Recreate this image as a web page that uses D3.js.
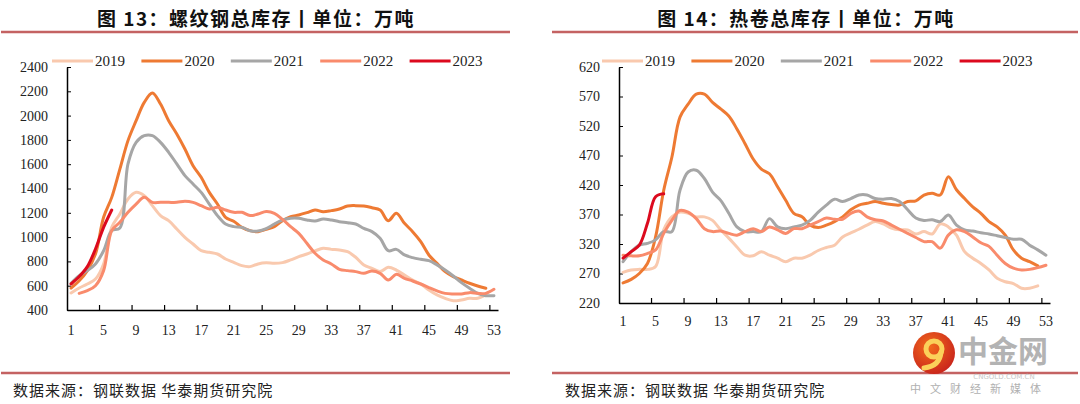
<!DOCTYPE html>
<html>
<head>
<meta charset="utf-8">
<script src="https://cdn.jsdelivr.net/npm/d3@7"></script>
<style>
  body { margin: 0; background: #fff; }
  svg { display: block; }
</style>
</head>
<body>
<div id="chart"></div>
<script>
// Week numbers on the x axis
const weeks = d3.range(1, 54);
const years = ["2019", "2020", "2021", "2022", "2023"];
const colors = ["#f9c9ae", "#ee7a33", "#a6a6a6", "#f98b6c", "#dc0a1e"];

// Rebar total inventory (figure 13)
const rebar2019 = [540, 581, 614, 655, 779, 1080, 1190, 1314, 1369, 1341, 1259, 1177, 1135, 1067, 998, 943, 888, 875, 861, 820, 792, 765, 757, 779, 788,
  784, 790, 812, 839, 861, 886, 908, 899, 894, 880, 834, 771, 743, 716, 751, 729, 688, 647, 614, 565, 524, 496, 477, 483, 496, 496, 524];
const rebar2020 = [580, 640, 724, 860, 1163, 1327, 1560, 1794, 1958, 2109, 2186, 2095, 1958, 1849, 1725, 1588, 1492, 1368, 1272, 1163, 1130, 1080, 1053, 1045, 1065,
  1086, 1135, 1168, 1182, 1201, 1223, 1209, 1218, 1231, 1256, 1259, 1256, 1242, 1223, 1135, 1196, 1113, 1045, 963, 853, 784, 716, 675, 647, 620, 598, 579];
const rebar2021 = [620, 683, 724, 779, 888, 1053, 1075, 1602, 1780, 1835, 1835, 1780, 1698, 1602, 1506, 1437, 1368, 1272, 1177, 1108, 1086, 1080, 1053, 1050, 1070,
  1108, 1141, 1155, 1155, 1141, 1133, 1149, 1141, 1127, 1119, 1108, 1072, 1045, 990, 888, 899, 853, 831, 817, 806, 771, 729, 680, 625, 579, 537, 518, 518];
const rebar2022 = [null, 537, 559, 600, 724, 1053, 1122, 1204, 1272, 1327, 1286, 1286, 1286, 1286, 1295, 1286, 1259, 1231, 1245, 1223, 1204, 1204, 1177, 1190, 1210,
  1196, 1146, 1086, 1031, 949, 867, 812, 779, 735, 724, 716, 702, 721, 702, 647, 694, 661, 639, 614, 584, 557, 537, 532, 532, 543, 537, 537, 570];
const rebar2023 = [614, 675, 757, 902, 1080, 1223];

// Hot-rolled coil total inventory (figure 14)
const hrc2019 = [272, 276, 277, 277, 282, 344, 366, 374, 372, 366, 366, 360, 344, 330, 315, 301, 300, 307, 301, 296, 290, 296, 296, 301, 309,
  314, 318, 332, 339, 345, 352, 358, 354, 347, 344, 344, 337, 341, 337, 354, 349, 335, 307, 296, 287, 276, 262, 256, 253, 245, 245, 249];
const hrc2020 = [254, 260, 270, 287, 332, 411, 467, 535, 557, 574, 574, 560, 549, 537, 515, 490, 464, 447, 439, 417, 394, 372, 366, 352, 348,
  352, 358, 366, 378, 386, 389, 392, 389, 387, 386, 392, 393, 403, 406, 403, 434, 412, 397, 383, 372, 358, 349, 335, 310, 296, 290, 283];
const hrc2021 = [290, 307, 318, 321, 327, 341, 341, 411, 442, 445, 431, 408, 394, 372, 349, 341, 341, 341, 363, 349, 346, 349, 352, 360, 374,
  386, 396, 392, 397, 403, 403, 397, 396, 397, 392, 378, 364, 360, 361, 358, 369, 352, 344, 342, 339, 337, 334, 331, 328, 328, 318, 310, 301];
const hrc2022 = [301, 300, 300, 304, 310, 338, 360, 377, 374, 363, 346, 341, 342, 338, 335, 341, 346, 341, 349, 344, 338, 346, 346, 352, 358,
  364, 362, 362, 372, 376, 366, 361, 359, 352, 345, 338, 331, 324, 324, 313, 335, 344, 341, 332, 322, 316, 301, 287, 279, 276, 277, 280, 284];
const hrc2023 = [296, 307, 318, 355, 400, 405];

// Tick labels
const rebarTicks = [400, 600, 800, 1000, 1200, 1400, 1600, 1800, 2000, 2200, 2400];
const hrcTicks = [220, 270, 320, 370, 420, 470, 520, 570, 620];
const weekLabels = weeks.filter(w => (w - 1) % 4 === 0);

const svg = d3.select("#chart").append("svg")
  .attr("width", 1080)
  .attr("height", 404);

function drawChart(opts) {
  const g = svg.append("g");
  const serif = "'Liberation Serif', 'Times New Roman', serif";

  // Title and rule lines
  g.append("text")
    .attr("x", opts.titleX).attr("y", 26)
    .attr("text-anchor", "middle")
    .style("font-family", "'Noto Sans CJK SC', sans-serif")
    .style("font-weight", "bold")
    .style("font-size", "19px")
    .style("letter-spacing", "1.5px")
    .attr("fill", "#111")
    .text(opts.title);
  g.append("line")
    .attr("x1", opts.ruleX1).attr("x2", opts.ruleX2)
    .attr("y1", 32).attr("y2", 32)
    .attr("stroke", "#c46262").attr("stroke-width", 2.5);
  g.append("line")
    .attr("x1", opts.ruleX1).attr("x2", opts.ruleX2)
    .attr("y1", 373).attr("y2", 373)
    .attr("stroke", "#c46262").attr("stroke-width", 2.5);
  g.append("text")
    .attr("x", opts.sourceX).attr("y", 396)
    .style("font-family", "'Noto Sans CJK SC', sans-serif")
    .style("font-size", "15px")
    .style("letter-spacing", "1px")
    .attr("fill", "#222")
    .text("数据来源：钢联数据 华泰期货研究院");

  // Scales
  const x = d3.scaleBand()
    .domain(weeks)
    .range([opts.left, opts.right])
    .padding(0);
  const y = d3.scaleLinear()
    .domain(opts.domain)
    .range([opts.bottom, opts.top]);

  // Y axis
  const yAxis = g.append("g")
    .attr("transform", "translate(" + opts.left + ",0)")
    .call(d3.axisLeft(y).tickValues(opts.yTicks).tickFormat(d3.format("d"))
      .tickSizeInner(-4).tickSizeOuter(0).tickPadding(19));
  yAxis.select(".domain").attr("stroke", "#000").attr("stroke-width", 1.5);
  yAxis.selectAll(".tick line").attr("stroke", "#000");
  yAxis.selectAll("text")
    .style("font-family", serif)
    .style("font-size", "14px")
    .attr("fill", "#222");

  // X axis: labels every 4th week, tick marks on category borders
  const xAxis = g.append("g")
    .attr("transform", "translate(0," + opts.bottom + ")")
    .call(d3.axisBottom(x).tickValues(weekLabels).tickSize(0).tickPadding(opts.xPad));
  xAxis.select(".domain").attr("stroke", "#000").attr("stroke-width", 1.5);
  xAxis.selectAll("text")
    .style("font-family", serif)
    .style("font-size", "14px")
    .attr("fill", "#222");
  xAxis.selectAll(".border-tick")
    .data(weeks.filter(w => w > 1 && (w - 1) % 4 === 0))
    .enter()
    .append("line")
    .attr("class", "border-tick")
    .attr("x1", d => x(d)).attr("x2", d => x(d))
    .attr("y1", 0).attr("y2", -5)
    .attr("stroke", "#000").attr("stroke-width", 1.2);

  // Lines
  const line = d3.line()
    .defined(d => d.v != null)
    .x(d => x(d.w) + x.bandwidth() / 2)
    .y(d => y(d.v))
    .curve(d3.curveCatmullRom.alpha(0.5));

  opts.series.forEach((vals, i) => {
    const pts = vals.map((v, j) => ({ w: weeks[j], v: v }));
    g.append("path")
      .datum(pts)
      .attr("fill", "none")
      .attr("stroke", colors[i])
      .attr("stroke-width", 3)
      .attr("stroke-linejoin", "round")
      .attr("stroke-linecap", "round")
      .attr("d", line);
  });

  // Legend
  const legend = g.append("g");
  years.forEach((yr, i) => {
    const lx = opts.legendX + i * 89.4;
    legend.append("line")
      .attr("x1", lx).attr("x2", lx + 41)
      .attr("y1", 61).attr("y2", 61)
      .attr("stroke", colors[i]).attr("stroke-width", 3);
    legend.append("text")
      .attr("x", lx + 43).attr("y", 66)
      .style("font-family", serif)
      .style("font-size", "15px")
      .attr("fill", "#222")
      .text(yr);
  });
}

drawChart({
  title: "图 13：螺纹钢总库存丨单位：万吨",
  titleX: 256, ruleX1: 1, ruleX2: 510, sourceX: 13,
  left: 67, right: 498, top: 67, bottom: 310,
  domain: [400, 2400], yTicks: rebarTicks, xPad: 15,
  legendX: 52,
  series: [rebar2019, rebar2020, rebar2021, rebar2022, rebar2023]
});

drawChart({
  title: "图 14：热卷总库存丨单位：万吨",
  titleX: 806, ruleX1: 552, ruleX2: 1078, sourceX: 565,
  left: 619, right: 1050, top: 67, bottom: 303,
  domain: [220, 620], yTicks: hrcTicks, xPad: 13,
  legendX: 602,
  series: [hrc2019, hrc2020, hrc2021, hrc2022, hrc2023]
});

// Watermark of the source site
const wm = svg.append("g");
const grad = svg.append("defs").append("radialGradient")
  .attr("id", "logoGrad").attr("cx", "40%").attr("cy", "35%").attr("r", "70%");
grad.append("stop").attr("offset", "0%").attr("stop-color", "#f26a1b");
grad.append("stop").attr("offset", "100%").attr("stop-color", "#c8231c");
wm.append("circle")
  .attr("cx", 934).attr("cy", 353).attr("r", 21)
  .attr("fill", "url(#logoGrad)");
wm.append("circle")
  .attr("cx", 934).attr("cy", 349).attr("r", 8)
  .attr("fill", "none").attr("stroke", "#fbd15a").attr("stroke-width", 5);
wm.append("path")
  .attr("d", "M941,352 Q940,366 924,368")
  .attr("fill", "none").attr("stroke", "#fbd15a").attr("stroke-width", 5)
  .attr("stroke-linecap", "round");
wm.append("text")
  .attr("x", 958).attr("y", 362)
  .style("font-family", "'Noto Sans CJK SC', sans-serif")
  .style("font-weight", "bold")
  .style("font-size", "30px")
  .attr("fill", "#b3b3b3")
  .text("中金网");
wm.append("text")
  .attr("x", 1004).attr("y", 379)
  .attr("text-anchor", "middle")
  .style("font-family", "'DejaVu Sans', sans-serif")
  .style("font-size", "7px")
  .attr("fill", "#c8c8c8")
  .text("CNGOLD.COM.CN");
wm.append("text")
  .attr("x", 980).attr("y", 393)
  .attr("text-anchor", "middle")
  .style("font-family", "'Noto Sans CJK SC', sans-serif")
  .style("font-size", "11px")
  .style("letter-spacing", "9px")
  .attr("fill", "#b0b0b0")
  .text("中文财经新媒体");
</script>
</body>
</html>
